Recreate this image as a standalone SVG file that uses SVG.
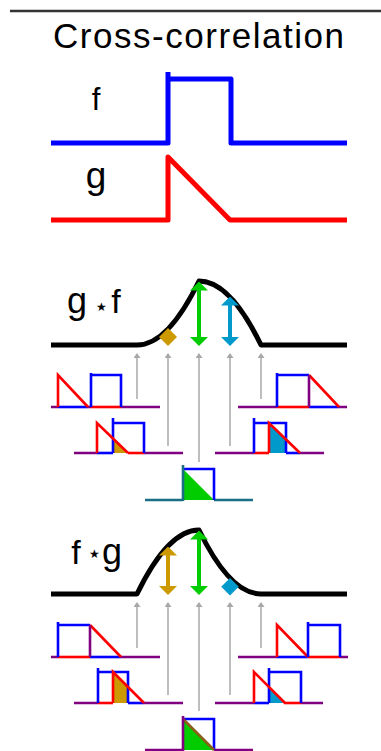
<svg xmlns="http://www.w3.org/2000/svg" width="381" height="751" viewBox="0 0 381 751">
<style>
.lbl{font-family:"Liberation Sans",Arial,sans-serif;fill:#000}
.big{fill:none;stroke-width:5;stroke-linejoin:round}
.sm{fill:none;stroke-width:2.6;stroke-linejoin:miter}
.b{stroke:#0000ff}.r{stroke:#ff0000}.p{stroke:#800080}.k{stroke:#000}
.gray{stroke:#a8a8a8;stroke-width:1.5;fill:none}
.arr{stroke-width:4;fill:none}
</style>
<defs>
<marker id="mg" viewBox="0 0 5 7" refX="0" refY="3.5" markerWidth="5" markerHeight="7" markerUnits="userSpaceOnUse" orient="auto"><path d="M0,0 L5,3.5 L0,7 z" fill="#a8a8a8"/></marker>
<marker id="mgold" viewBox="0 0 9 18" refX="0.5" refY="9" markerWidth="9" markerHeight="18" markerUnits="userSpaceOnUse" orient="auto-start-reverse"><path d="M0,0 L9,9 L0,18 z" fill="#cc9900"/></marker>
<marker id="mgreen" viewBox="0 0 9 18" refX="0.5" refY="9" markerWidth="9" markerHeight="18" markerUnits="userSpaceOnUse" orient="auto-start-reverse"><path d="M0,0 L9,9 L0,18 z" fill="#00cc00"/></marker>
<marker id="mblue" viewBox="0 0 9 18" refX="0.5" refY="9" markerWidth="9" markerHeight="18" markerUnits="userSpaceOnUse" orient="auto-start-reverse"><path d="M0,0 L9,9 L0,18 z" fill="#0099cc"/></marker>
</defs>
<rect width="381" height="751" fill="#fff"/>
<path d="M10,11 H381" stroke="#333" stroke-width="2.5"/>
<g id="title"><text class="lbl" x="53" y="48" font-size="35" textLength="291">Cross-correlation</text></g>

<g id="f-plot">
<text class="lbl" x="96" y="110" font-size="31" text-anchor="middle">f</text>
<path class="big b" d="M51,143 H168 V79 H231 V143 H347 M168,79 V72"/>
</g>
<g id="g-plot">
<text class="lbl" x="96" y="188" font-size="37" text-anchor="middle">g</text>
<path class="big r" d="M51,220 H168 V157 L230,220 H347"/>
</g>

<g id="gf-curve">
<text class="lbl" x="77" y="313" font-size="36" text-anchor="middle">g</text>
<text class="lbl" x="101" y="311" font-size="12" text-anchor="middle">★</text>
<text class="lbl" x="116" y="313" font-size="34" text-anchor="middle">f</text>
<path class="big k" d="M51,345 H137 Q168,345 199,281 Q230,281 261,345 H347"/>
</g>

<g id="gf-p1">
<path class="sm p" d="M51,407 H58 M88,407 H91 M121,407 H160"/>
<path class="sm b" d="M58,407 H88"/>
<path class="sm r" d="M91,407 H121"/>
<path class="sm b" d="M91,407 V373 M91,375 H121 V407"/>
<path class="sm r" d="M58,407 V375 L88,407"/>
</g>
<g id="gf-p2">
<path class="sm p" d="M74,453 H97 M144,453 H183"/>
<polygon points="113,453 113,438.5 128,453" fill="#cc9900"/>
<path class="sm b" d="M97,453 H113"/>
<path class="sm r" d="M128,453 H144"/>
<path class="sm b" d="M113,453 V418 M113,423 H144 V453"/>
<path class="sm r" d="M97,453 V423 L128,453"/>
</g>
<g id="gf-p3">
<path class="sm" stroke="#1a6e85" d="M145,500 H183 M214,500 H253"/>
<polygon points="183,469 214,500 183,500" fill="#00cc00"/>
<path class="sm b" d="M183,469 H214 V500"/>
<path class="sm" stroke="#1a6e85" d="M183,501 V465"/>
</g>
<g id="gf-p4">
<path class="sm p" d="M215,453 H254 M300,453 H324"/>
<polygon points="269,453 269,423 286,439.5 286,453" fill="#0099cc"/>
<path class="sm r" d="M254,453 H269"/>
<path class="sm b" d="M286,453 H300"/>
<path class="sm b" d="M254,453 V418 M254,423 H286 V453"/>
<path class="sm r" d="M269,453 V423 L300,453"/>
</g>
<g id="gf-p5">
<path class="sm p" d="M238,407 H277 M339,407 H347"/>
<path class="sm r" d="M277,407 H309"/>
<path class="sm b" d="M309,407 H339"/>
<path class="sm b" d="M277,407 V373 M277,375 H309"/>
<path class="sm r" d="M309,375 L339,407"/>
<path class="sm p" d="M309,375 V407"/>
</g>

<g id="fg-curve">
<text class="lbl" x="76" y="564" font-size="34" text-anchor="middle">f</text>
<text class="lbl" x="94" y="558" font-size="12" text-anchor="middle">★</text>
<text class="lbl" x="112" y="564" font-size="36" text-anchor="middle">g</text>
<path class="big k" d="M51,594 H137 Q168,530 199,530 Q230,594 261,594 H347"/>
</g>

<g id="fg-p1">
<path class="sm p" d="M51,657 H58 M121,657 H160"/>
<path class="sm r" d="M58,657 H90"/>
<path class="sm b" d="M90,657 H121"/>
<path class="sm b" d="M58,657 V622 M58,625 H90"/>
<path class="sm r" d="M90,625 L121,657"/>
<path class="sm p" d="M90,625 V657"/>
</g>
<g id="fg-p2">
<path class="sm p" d="M74,703 H98 M144,703 H183"/>
<polygon points="113,703 113,672 128,687.5 128,703" fill="#cc9900"/>
<path class="sm r" d="M98,703 H113"/>
<path class="sm b" d="M128,703 H144"/>
<path class="sm b" d="M98,703 V668 M98,672 H128 V703"/>
<path class="sm r" d="M113,703 V672 L144,703"/>
</g>
<g id="fg-p3">
<path class="sm p" d="M145,750 H183 M214,750 H253"/>
<polygon points="183,719 214,750 183,750" fill="#00cc00"/>
<path class="sm b" d="M183,719 H214 V750"/>
<path class="sm" stroke="#8b5e1a" d="M183,719 L214,750"/>
<path class="sm p" d="M183,751 V716"/>
</g>
<g id="fg-p4">
<path class="sm p" d="M215,703 H254 M301,703 H323"/>
<polygon points="269,688 284,703 269,703" fill="#0099cc"/>
<path class="sm b" d="M254,703 H269"/>
<path class="sm r" d="M284,703 H301"/>
<path class="sm b" d="M269,703 V668 M269,672 H301 V703"/>
<path class="sm r" d="M254,703 V672 L285,703"/>
</g>
<g id="fg-p5">
<path class="sm p" d="M238,657 H277 M340,657 H348"/>
<path class="sm b" d="M277,657 H308"/>
<path class="sm r" d="M308,657 H340"/>
<path class="sm r" d="M277,657 V625 L308,657"/>
<path class="sm b" d="M308,657 V622 M308,625 H340 V657"/>
</g>

<g id="connectors">
<path class="gray" marker-end="url(#mg)" d="M137,399 V358"/>
<path class="gray" marker-end="url(#mg)" d="M168,446 V358"/>
<path class="gray" marker-end="url(#mg)" d="M199,462 V358"/>
<path class="gray" marker-end="url(#mg)" d="M230,446 V358"/>
<path class="gray" marker-end="url(#mg)" d="M261,399 V358"/>
<path class="gray" marker-end="url(#mg)" d="M137,648 V607"/>
<path class="gray" marker-end="url(#mg)" d="M168,695 V607"/>
<path class="gray" marker-end="url(#mg)" d="M199,711 V607"/>
<path class="gray" marker-end="url(#mg)" d="M230,695 V607"/>
<path class="gray" marker-end="url(#mg)" d="M261,648 V607"/>
<path class="arr" stroke="#cc9900" marker-start="url(#mgold)" marker-end="url(#mgold)" d="M168,336.5 L168,337.5"/>
<path class="arr" stroke="#00cc00" marker-start="url(#mgreen)" marker-end="url(#mgreen)" d="M199,290 L199,337.5"/>
<path class="arr" stroke="#0099cc" marker-start="url(#mblue)" marker-end="url(#mblue)" d="M230,305 L230,337.5"/>
<path class="arr" stroke="#cc9900" marker-start="url(#mgold)" marker-end="url(#mgold)" d="M168,555 L168,586.5"/>
<path class="arr" stroke="#00cc00" marker-start="url(#mgreen)" marker-end="url(#mgreen)" d="M199,539 L199,586.5"/>
<path class="arr" stroke="#0099cc" marker-start="url(#mblue)" marker-end="url(#mblue)" d="M230,586.5 L230,587"/>
</g>
</svg>
